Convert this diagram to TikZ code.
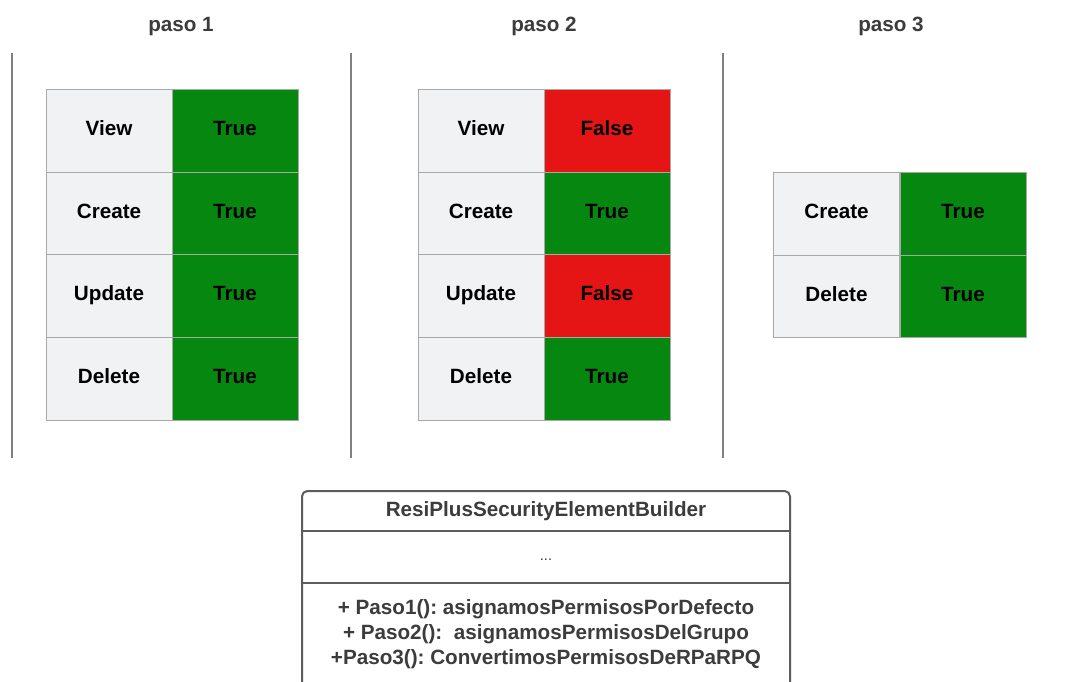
\documentclass[tikz,border=0pt]{standalone}
\usepackage{fontspec}
\setmainfont{Liberation Sans}
\frenchspacing
\definecolor{gcell}{HTML}{06870F}
\definecolor{rcell}{HTML}{E51515}
\definecolor{lcell}{HTML}{F1F2F4}
\definecolor{cellline}{HTML}{A8A8A8}
\definecolor{sepline}{HTML}{808080}
\definecolor{titletext}{HTML}{3C3C3C}
\definecolor{umlline}{HTML}{5C5C5C}
\begin{document}
\begin{tikzpicture}[x=0.75pt,y=-0.75pt,
  cellbase/.style={rectangle,draw=cellline,line width=0.75pt,minimum width=94.5pt,minimum height=61.9pt,inner sep=0pt,font=\fontsize{15.5}{18}\selectfont\bfseries,text=black,text height=11pt,text depth=4pt},
  keycell/.style={cellbase,fill=lcell},
  truecell/.style={cellbase,fill=gcell},
  falsecell/.style={cellbase,fill=rcell},
  steptitle/.style={font=\fontsize{15.5}{18}\selectfont\bfseries,text=titletext,text height=11pt,text depth=4pt},
  sepl/.style={draw=sepline,line width=1.5pt},
  umltext/.style={font=\fontsize{15.5}{18.75}\selectfont\bfseries,text=titletext,align=center}
]
\useasboundingbox (0,0) rectangle (1068,682);
\clip (0,0) rectangle (1068,682);
\fill[white] (0,0) rectangle (1068,682);

% titles
\node[steptitle] (t1) at (181,26.5) {paso 1};
\node[steptitle] (t2) at (544,26.5) {paso 2};
\node[steptitle] (t3) at (891,26.5) {paso 3};

% separators
\coordinate (s1a) at (12,53); \coordinate (s1b) at (12,458);
\coordinate (s2a) at (351,53); \coordinate (s2b) at (351,458);
\coordinate (s3a) at (723,53); \coordinate (s3b) at (723,458);
\draw[sepl] (s1a) -- (s1b);
\draw[sepl] (s2a) -- (s2b);
\draw[sepl] (s3a) -- (s3b);

% table 1
\node[keycell] (a1) at (109,131.25) {View};
\node[truecell] (a1v) at (235,131.25) {True};
\node[keycell] (a2) at (109,213.75) {Create};
\node[truecell] (a2v) at (235,213.75) {True};
\node[keycell] (a3) at (109,296.25) {Update};
\node[truecell] (a3v) at (235,296.25) {True};
\node[keycell] (a4) at (109,378.75) {Delete};
\node[truecell] (a4v) at (235,378.75) {True};

% table 2
\node[keycell] (b1) at (481,131.25) {View};
\node[falsecell] (b1v) at (607,131.25) {False};
\node[keycell] (b2) at (481,213.75) {Create};
\node[truecell] (b2v) at (607,213.75) {True};
\node[keycell] (b3) at (481,296.25) {Update};
\node[falsecell] (b3v) at (607,296.25) {False};
\node[keycell] (b4) at (481,378.75) {Delete};
\node[truecell] (b4v) at (607,378.75) {True};

% table 3
\node[keycell] (c1) at (836.5,214) {Create};
\node[truecell] (c1v) at (963,214) {True};
\node[keycell] (c2) at (836.5,296.5) {Delete};
\node[truecell] (c2v) at (963,296.5) {True};

% UML class box
\draw[umlline,line width=1.5pt,rounded corners=4pt] (302,720) -- (302,491) -- (790,491) -- (790,720);
\coordinate (h1l) at (302,531); \coordinate (h1r) at (790,531);
\coordinate (h2l) at (302,583); \coordinate (h2r) at (790,583);
\draw[umlline,line width=1.5pt] (h1l) -- (h1r);
\draw[umlline,line width=1.5pt] (h2l) -- (h2r);
\node[umltext,text height=11pt,text depth=4pt] (uname) at (546,512) {ResiPlusSecurityElementBuilder};
\node[font=\fontsize{11}{13}\selectfont,text=titletext] (uattr) at (546,560) {...};
\node[umltext] (umeth) at (546,634) {+ Paso1(): asignamosPermisosPorDefecto\\+ Paso2(): \ asignamosPermisosDelGrupo\\+Paso3(): ConvertimosPermisosDeRPaRPQ};
\end{tikzpicture}
\end{document}
